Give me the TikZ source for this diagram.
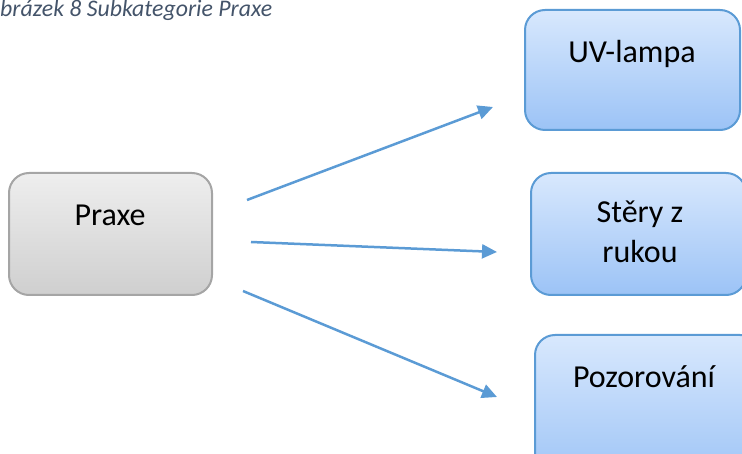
\documentclass[tikz,border=0pt]{standalone}
\usepackage{fontspec}
\setmainfont{Carlito}
\usetikzlibrary{arrows.meta}
\definecolor{capgray}{HTML}{44546A}
\definecolor{linkblue}{HTML}{5B9BD5}
\definecolor{greytop}{HTML}{EEEEEE}
\definecolor{greybot}{HTML}{CFCFCF}
\definecolor{greyline}{HTML}{A5A5A5}
\definecolor{bluetop}{HTML}{D8E8FD}
\definecolor{bluebot}{HTML}{9CC3F6}
\tikzset{
  greybox/.style={draw=greyline, line width=2pt, rounded corners=20pt,
    top color=greytop, bottom color=greybot, inner sep=0pt},
  bluebox/.style={draw=linkblue, line width=2pt, rounded corners=20pt,
    top color=bluetop, bottom color=bluebot, inner sep=0pt},
  boxtext/.style={font=\fontsize{32}{40}\selectfont, text=black, inner sep=0pt, anchor=base},
  link/.style={draw=linkblue, line width=2.5pt, -{Triangle[length=15pt,width=14pt]}},
}
\begin{document}
\begin{tikzpicture}[x=1pt, y=-1pt]
  \useasboundingbox (0,0) rectangle (742,454);

  % caption
  \node[anchor=base west, inner sep=0pt, text=capgray,
        font=\fontsize{23.8}{28}\selectfont\itshape] (cap) at (0,17) {brázek 8 Subkategorie Praxe};

  % boxes
  \node[greybox, minimum width=203pt, minimum height=122pt] (praxe) at (110.5,234) {};
  \node[bluebox, minimum width=215pt, minimum height=120pt] (uv) at (632.5,70) {};
  \node[bluebox, minimum width=215pt, minimum height=122pt] (stery) at (638.5,234) {};
  \node[bluebox, minimum width=225pt, minimum height=150pt] (pozor) at (647.5,410) {};

  % box texts
  \node[boxtext] (tpraxe) at (110,226) {Praxe};
  \node[boxtext] (tuv) at (632,63) {UV-lampa};
  \node[boxtext] (tstery1) at (640,223) {Stěry z};
  \node[boxtext] (tstery2) at (640,263) {rukou};
  \node[boxtext] (tpozor) at (644,388) {Pozorování};

  % arrow ends
  \coordinate (s1) at (247,200);
  \coordinate (s2) at (251,242);
  \coordinate (s3) at (243,291);
  \coordinate (e1) at (493,107);
  \coordinate (e2) at (497,252);
  \coordinate (e3) at (497,397);

  \draw[link] (s1) -- (e1);
  \draw[link] (s2) -- (e2);
  \draw[link] (s3) -- (e3);
\end{tikzpicture}
\end{document}
